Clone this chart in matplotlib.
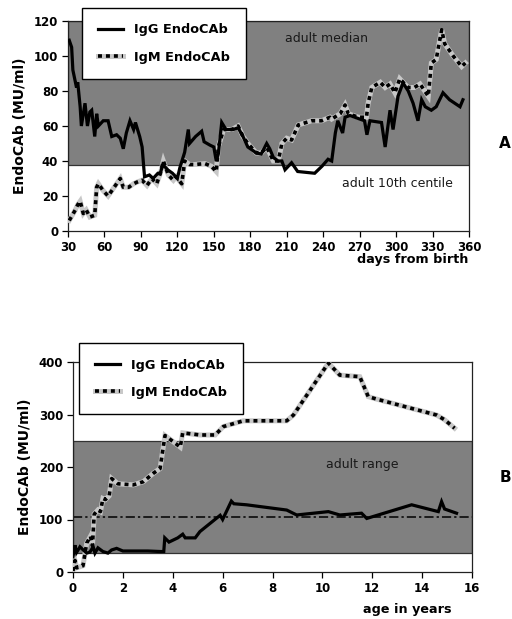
import matplotlib
matplotlib.use("Agg")
import matplotlib.pyplot as plt

plt.rcParams['font.family'] = ['DejaVu Sans']

# Panel A: days from birth
igg_a_days = [31, 33, 34, 37, 38, 40, 41, 44, 46, 48, 49.5, 52, 53.6, 55, 59, 63, 66, 70, 73,
              75.5, 78, 81, 84, 85.5, 89, 91, 92.5, 93, 97, 100, 104, 106, 108, 112, 116, 120,
              122, 126, 129, 130, 135, 140, 142, 147, 150, 152, 153.7, 156.5, 160, 166, 170,
              174, 178, 185, 189, 193.5, 196, 199, 203, 206, 208.6, 214, 219, 233, 239, 244,
              247, 250, 252, 256, 258, 262, 270, 274, 276, 278.5, 288, 291, 295, 297.5, 301.6,
              305.7, 310, 314, 318, 321, 324, 329, 333, 338.6, 344, 352.6, 355]
igg_a_vals = [109, 105, 92, 82, 85, 71, 60, 73, 60, 68, 69, 54, 67, 60, 63, 63, 54, 55, 53,
              47, 56, 63, 58, 62, 54, 48, 35, 31, 32, 30, 33, 33, 38, 35, 33, 30,
              36, 45, 58, 50, 54, 57, 51, 49, 48, 40, 44, 62, 58, 58, 59,
              54, 48, 44.6, 44, 50, 47, 42, 40, 40, 35, 39, 34, 33, 37, 41,
              40, 56, 63, 56, 65, 66, 64, 63, 55, 63, 62, 48, 69, 58, 77,
              84.6, 80, 73, 63, 75, 71, 69, 71, 79, 75, 71, 75]

igm_a_days = [31, 36, 38, 40, 42.6, 45, 48, 52, 53.6, 55, 59, 63, 68, 73, 75.5, 80, 84, 87, 91,
              95, 99, 103, 106, 108.5, 112.6, 116.7, 119, 123.6, 126, 130, 134.5, 142.7, 148,
              152, 153.7, 158, 165, 170, 174, 178, 185, 189, 193.5, 199, 203, 206, 210, 214,
              219.5, 230.5, 238.7, 245.6, 247, 254, 258, 260.7, 269, 275.6, 277, 280, 287, 291,
              295, 299, 303, 305.7, 309.8, 315, 319.7, 326.5, 329, 333, 337.5, 340, 347, 354, 357]
igm_a_vals = [6, 12, 15, 17, 10, 12, 8, 9, 25, 27, 23, 20, 25, 30, 25, 25, 27, 28, 29,
              26, 30, 27, 33, 40, 32, 29, 31, 27, 40, 38, 38, 38.5, 37,
              34, 48, 58, 58, 60, 54, 50, 44.6, 44.6, 48, 40, 40, 50, 53, 52,
              60.6, 63, 63, 65, 64, 67, 72, 67, 65, 65, 73, 82, 85, 82,
              84, 79, 87, 85, 82, 82, 84, 77, 96, 98, 115, 107, 100, 94, 96]

# Panel B: age in years
igg_b_age = [0, 0.08, 0.14, 0.28, 0.41, 0.55, 0.68, 0.81, 0.88, 1.0, 1.2, 1.4, 1.55, 1.75, 2.0,
             2.55, 3.0, 3.5, 3.64, 3.68, 3.85, 4.2, 4.4, 4.5, 4.9, 5.09, 5.9, 6.0, 6.35, 6.45,
             6.96, 8.57, 8.97, 10.24, 10.7, 11.57, 11.78, 13.58, 14.65, 14.78, 14.9, 15.38]
igg_b_vals = [29, 51, 37, 48, 42, 36, 38, 48, 36, 46, 39, 36, 42, 45, 40,
              40, 40, 39, 39, 65, 57, 65, 72, 65, 65, 77, 108, 100, 135, 130,
              128, 118, 108.6, 115, 108.6, 112, 102, 128, 115, 134, 120, 112]

igm_b_age = [0.0, 0.08, 0.15, 0.4, 0.55, 0.7, 0.78, 0.85, 1.0, 1.1, 1.2, 1.3, 1.45, 1.55, 1.8,
             2.42, 2.82, 3.22, 3.49, 3.69, 4.3, 4.4, 5.09, 5.7, 6.03, 6.83, 8.57, 8.84, 10.24,
             10.7, 11.5, 11.84, 12.2, 14.58, 14.9, 15.3]
igm_b_vals = [2, 22, 8, 12, 55, 68, 50, 110, 118, 115, 140, 138, 145, 178, 168,
              166, 172, 188, 197, 260, 238, 265, 261, 261, 277, 288, 288, 299, 398,
              375, 372, 334, 329, 299, 290, 274]

labels = ['IgG EndoCAb', 'IgM EndoCAb']
band_a = (38, 120)
band_b = (36, 250)
ref_b = 104

W, H = 512, 619
fig = plt.figure(figsize=(W / 100, H / 100), dpi=100)

ax_a = fig.add_axes([68 / W, 1 - 231 / H, 401 / W, 210 / H])
ax_b = fig.add_axes([73 / W, 1 - 572 / H, 399 / W, 210 / H])

GRAY_BAND = '#808080'
GRAY_LINE = '#c8c8c8'


def draw_pair(ax, xg, yg, xm, ym):
    g, = ax.plot(xg, yg, color='black', lw=2.3, solid_joinstyle='miter', zorder=4)
    m1, = ax.plot(xm, ym, color=GRAY_LINE, lw=3.6, solid_joinstyle='miter', zorder=3)
    m2, = ax.plot(xm, ym, color='black', lw=2.6, linestyle=(0, (1.1, 1.1)),
                  dash_capstyle='butt', zorder=3.5)
    return g, (m1, m2)


def style_axes(ax):
    for s in ax.spines.values():
        s.set_linewidth(0.9)
        s.set_color('#222222')
    ax.tick_params(direction='out', length=4, width=0.9, labelsize=8.5, pad=3)
    for t in ax.get_xticklabels() + ax.get_yticklabels():
        t.set_fontweight('bold')
    ax.set_ylabel('EndoCAb (MU/ml)', fontsize=10, fontweight='bold', labelpad=5)


def add_legend(handles, x, y):
    fig.legend(handles, labels, loc='upper left', bbox_to_anchor=(x / W, 1 - y / H),
               frameon=True, fancybox=False, edgecolor='black', framealpha=1,
               prop={'weight': 'bold', 'size': 9.3}, handlelength=2.0, handletextpad=0.85,
               labelspacing=1.1, borderpad=1.2, borderaxespad=0)


# ---- panel A ----
ax_a.axhspan(*band_a, facecolor=GRAY_BAND, edgecolor='#333333', lw=0.9, zorder=0)
g, m = draw_pair(ax_a, igg_a_days, igg_a_vals, igm_a_days, igm_a_vals)
ax_a.set_xlim(30, 360)
ax_a.set_ylim(0, 120)
ax_a.set_xticks(range(30, 361, 30))
ax_a.set_yticks(range(0, 121, 20))
style_axes(ax_a)
ax_a.text(243, 110, 'adult median', fontsize=9, color='#1a1a1a', ha='center', va='center')
ax_a.text(301, 27, 'adult 10th centile', fontsize=9, color='#1a1a1a', ha='center', va='center')
fig.text(413 / W, 1 - 259 / H, 'days from birth', fontsize=9.2, fontweight='bold',
         ha='center', va='center')
fig.text(505 / W, 1 - 143 / H, 'A', fontsize=11, fontweight='bold', ha='center', va='center')
add_legend([g, m], 82, 8)

# ---- panel B ----
ax_b.axhspan(*band_b, facecolor=GRAY_BAND, edgecolor='#333333', lw=0.9, zorder=0)
ax_b.axhline(ref_b, color='black', lw=1.1, linestyle=(0, (6, 2, 1.5, 2)), zorder=2)
g, m = draw_pair(ax_b, igg_b_age, igg_b_vals, igm_b_age, igm_b_vals)
ax_b.set_xlim(0, 16)
ax_b.set_ylim(0, 400)
ax_b.set_xticks(range(0, 17, 2))
ax_b.set_yticks(range(0, 401, 100))
style_axes(ax_b)
ax_b.text(11.6, 204, 'adult range', fontsize=9, color='#1a1a1a', ha='center', va='center')
fig.text(407 / W, 1 - 610 / H, 'age in years', fontsize=9.2, fontweight='bold',
         ha='center', va='center')
fig.text(505 / W, 1 - 478 / H, 'B', fontsize=11, fontweight='bold', ha='center', va='center')
add_legend([g, m], 79, 343)

fig.savefig('out.png', dpi=100)
